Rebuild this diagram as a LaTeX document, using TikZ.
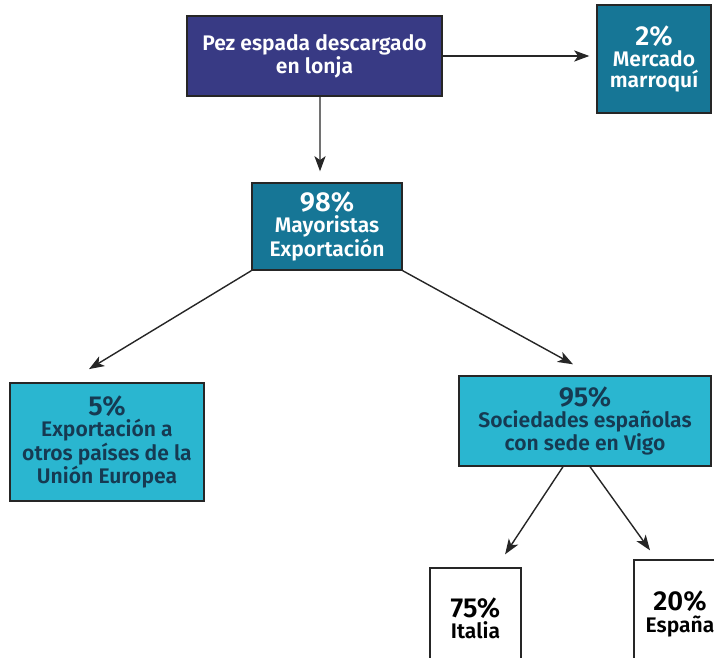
\documentclass[tikz,border=0pt]{standalone}
\usepackage{fontspec}
\setmainfont{Fira Sans}[BoldFont={Fira Sans SemiBold}]
\usetikzlibrary{arrows.meta,calc}
\definecolor{lonjablue}{RGB}{56,58,132}
\definecolor{mayorteal}{RGB}{22,118,150}
\definecolor{socicyan}{RGB}{42,182,208}
\definecolor{socitext}{RGB}{22,58,82}
\newcommand{\pctfont}{\fontsize{19.5}{19}\selectfont}
\tikzstyle{block} = [rectangle, draw=black!85, line width=1pt, align=center,
    inner sep=0pt, font=\bfseries\fontsize{15}{15}\selectfont]
\tikzstyle{line} = [draw, line width=1pt, black!85,
    -{Stealth[length=3.8mm,width=2.8mm,inset=1mm]}]

\begin{document}
\begin{tikzpicture}
    \useasboundingbox (0,0) rectangle (17.85,-16.425);
    % Place nodes
    \node [block, fill=lonjablue, text=white, minimum width=6.375cm, minimum height=2cm] (lonja) at (7.8625,-1.4) {Pez espada descargado\\en lonja};
    \node [block, fill=mayorteal, text=white, right of=lonja, node distance=8.4875cm, yshift=-0.075cm, minimum width=2.85cm, minimum height=2.7cm] (marruecos) {{\pctfont 2\%}\\Mercado\\marroquí};
    \node [block, fill=mayorteal, text=white, below of=lonja, node distance=4.2625cm, xshift=0.3125cm, minimum width=3.75cm, minimum height=2.175cm] (mayor) {{\pctfont 98\%}\\Mayoristas\\Exportación};
    \node [block, fill=socicyan, text=socitext, below of=mayor, node distance=5.3875cm, xshift=-5.5cm, minimum width=4.85cm, minimum height=2.95cm] (ue) {{\pctfont 5\%}\\Exportación a\\otros países de la\\Unión Europea};
    \node [block, fill=socicyan, text=socitext, below of=mayor, node distance=4.8625cm, xshift=6.45cm, minimum width=6.3cm, minimum height=2.25cm] (vigo) {{\pctfont 95\%}\\Sociedades españolas\\con sede en Vigo};
    \node [block, fill=white, text=black, below of=vigo, node distance=4.925cm, xshift=-2.7375cm, minimum width=2.275cm, minimum height=2.5cm] (italia) {{\pctfont 75\%}\\Italia};
    \node [block, fill=white, text=black, right of=italia, node distance=5.1125cm, yshift=0.1cm, minimum width=2.3cm, minimum height=2.7cm] (espana) {{\pctfont 20\%}\\España};
    % Draw edges
    \path [line] (lonja.east) -- ([xshift=-0.175cm] lonja.east -| marruecos.west);
    \path [line] ([xshift=0.1375cm] lonja.south) -- ([xshift=-0.175cm, yshift=0.275cm] mayor.north);
    \path [line] (mayor.south west) -- ([xshift=-0.45cm, yshift=0.33cm] ue.north);
    \path [line] (mayor.south east) -- ([xshift=-0.3cm, yshift=0.275cm] vigo.north);
    \path [line] ([xshift=-0.55cm] vigo.south) -- ([xshift=0.74cm, yshift=0.325cm] italia.north);
    \path [line] ([xshift=0.125cm] vigo.south) -- ([xshift=-0.75cm, yshift=0.225cm] espana.north);
\end{tikzpicture}
\end{document}
